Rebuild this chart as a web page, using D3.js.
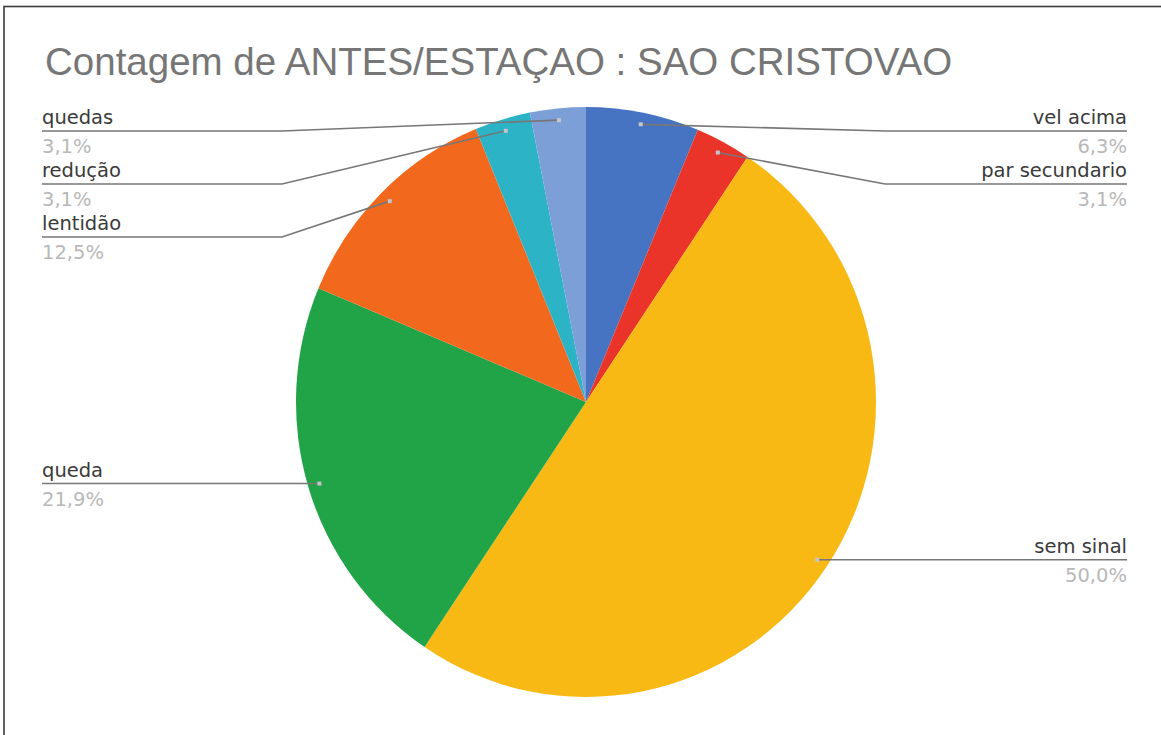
<!DOCTYPE html>
<html>
<head>
<meta charset="utf-8">
<script src="https://cdn.jsdelivr.net/npm/d3@7"></script>
<style>
  html, body { margin: 0; padding: 0; background: #fff; }
  svg { display: block; }
</style>
</head>
<body>
<svg id="chart" width="1161" height="735"></svg>
<script>
// Slice order runs clockwise from 12 o'clock.
const categories = ["vel acima", "par secundario", "sem sinal", "queda", "lentidão", "redução", "quedas"];
const percents   = [6.3, 3.1, 50.0, 21.9, 12.5, 3.1, 3.1];
const colors     = ["#4673c2", "#ea3429", "#f8b914", "#20a447", "#f2691e", "#2cb3c6", "#7c9fd8"];
const titleText  = "Contagem de ANTES/ESTAÇAO : SAO CRISTOVAO";

const W = 1161, H = 735;
const svg = d3.select("#chart");

// frame
svg.append("rect")
  .attr("x", 4).attr("y", 6.5)
  .attr("width", W + 20).attr("height", H + 20)
  .attr("fill", "#fff").attr("stroke", "#3a3a3a").attr("stroke-width", 1.6);

// title
svg.append("text")
  .attr("x", 45).attr("y", 75)
  .attr("font-family", "'Liberation Sans', Arial, sans-serif")
  .attr("font-size", 38.5)
  .attr("fill", "#767676")
  .text(titleText);

// pie geometry
const cx = 586, cy = 402, rx = 290, ry = 295;
const data = categories.map((c, i) => ({ name: c, value: percents[i], color: colors[i] }));

const pie = d3.pie().value(d => d.value).sort(null);
const arcs = pie(data);
const arc = d3.arc().innerRadius(0).outerRadius(rx);

const g = svg.append("g")
  .attr("transform", `translate(${cx},${cy}) scale(1,${ry / rx})`);

g.selectAll("path.slice")
  .data(arcs)
  .join("path")
  .attr("class", "slice")
  .attr("d", arc)
  .attr("fill", d => d.data.color);

// label anchors inside each slice near the rim
const anchorFrac = 0.96;
const items = arcs.map(a => {
  const mid = (a.startAngle + a.endAngle) / 2;
  return {
    name: a.data.name,
    value: a.data.value,
    ax: cx + Math.sin(mid) * rx * anchorFrac,
    ay: cy - Math.cos(mid) * ry * anchorFrac,
    side: Math.sin(mid) < 0 ? "left" : "right"
  };
});

// stack labels on each side so they do not overlap
const minY = 131, gap = 53;
["left", "right"].forEach(side => {
  const list = items.filter(d => d.side === side).sort((a, b) => a.ay - b.ay);
  let prev = -Infinity;
  list.forEach(d => {
    d.ly = Math.max(d.ay, minY, prev + gap);
    prev = d.ly;
  });
});

const leftText = 42, rightText = 1127, leftElbow = 282, rightElbow = 885;
const fmt = v => v.toFixed(1).replace(".", ",") + "%";

const lab = svg.append("g");

lab.selectAll("path.leader")
  .data(items)
  .join("path")
  .attr("class", "leader")
  .attr("fill", "none")
  .attr("stroke", "#777")
  .attr("stroke-width", 1.6)
  .attr("d", d => {
    const tx = d.side === "left" ? leftText : rightText;
    const ex = d.side === "left" ? leftElbow : rightElbow;
    return d3.line()([[tx, d.ly], [ex, d.ly], [d.ax, d.ay]]);
  });

lab.selectAll("rect.dot")
  .data(items)
  .join("rect")
  .attr("class", "dot")
  .attr("x", d => d.ax - 2).attr("y", d => d.ay - 2)
  .attr("width", 4).attr("height", 4)
  .attr("fill", "#c4c4cc");

lab.selectAll("text.name")
  .data(items)
  .join("text")
  .attr("class", "name")
  .attr("x", d => d.side === "left" ? leftText : rightText)
  .attr("y", d => d.ly - 7)
  .attr("text-anchor", d => d.side === "left" ? "start" : "end")
  .attr("font-family", "'DejaVu Sans', sans-serif")
  .attr("font-size", 19.5)
  .attr("fill", "#3a3a3a")
  .text(d => d.name);

lab.selectAll("text.pct")
  .data(items)
  .join("text")
  .attr("class", "pct")
  .attr("x", d => d.side === "left" ? leftText : rightText)
  .attr("y", d => d.ly + 22)
  .attr("text-anchor", d => d.side === "left" ? "start" : "end")
  .attr("font-family", "'DejaVu Sans', sans-serif")
  .attr("font-size", 19.5)
  .attr("fill", "#b8b8b8")
  .text(d => fmt(d.value));
</script>
</body>
</html>
